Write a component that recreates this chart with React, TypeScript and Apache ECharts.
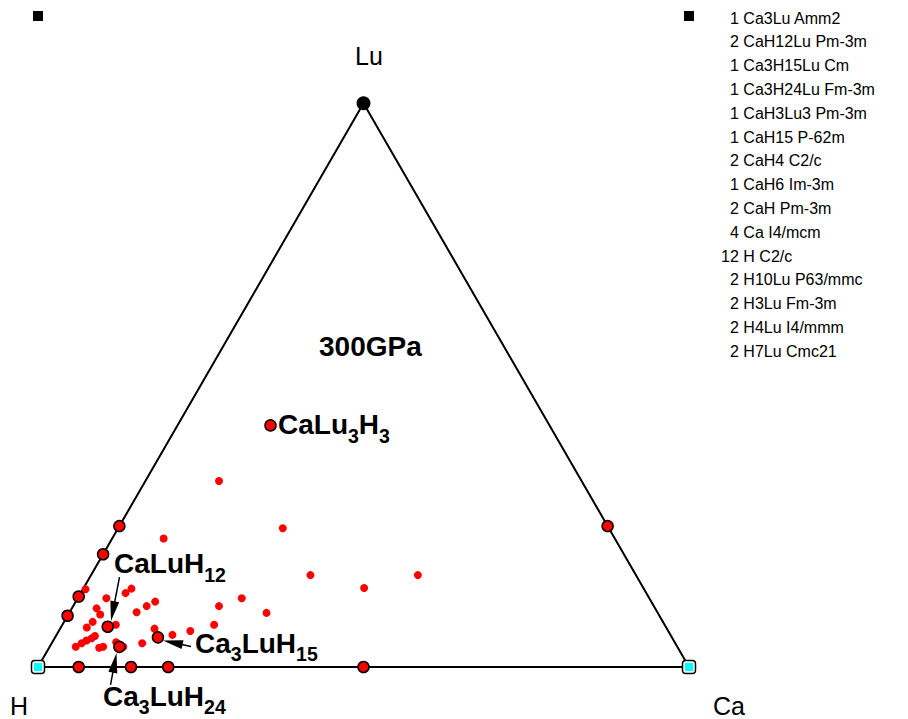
import React, { useEffect, useRef } from "react";
import * as echarts from "echarts";

const S3 = Math.sqrt(3) / 2;
const FONT = "'Liberation Sans', Arial, Helvetica, sans-serif";

// Stable phases: atom counts (Ca, Lu, H)
const stableNames = ["Ca3Lu", "CaH12Lu", "Ca3H15Lu", "Ca3H24Lu", "CaH3Lu3", "CaH15", "CaH4", "CaH6", "CaH", "H10Lu", "H3Lu", "H4Lu", "H7Lu"];
const stableCa = [3, 1, 3, 3, 1, 1, 1, 1, 1, 0, 0, 0, 0];
const stableLu = [1, 1, 1, 1, 3, 0, 0, 0, 0, 1, 1, 1, 1];
const stableH = [0, 12, 15, 24, 3, 15, 4, 6, 1, 10, 3, 4, 7];

// Elemental end members (Ca, Lu, H counts)
const elemNames = ["H", "Ca", "Lu"];
const elemCa = [0, 1, 0];
const elemLu = [0, 0, 1];
const elemH = [1, 0, 0];

// Metastable (above hull) compositions: fractions of Ca and Lu (H is the rest)
const unstableCa = [0.113, 0.253, 0.079, 0.337, 0.502, 0.431, 0.252, 0.224, 0.303, 0.233, 0.202, 0.178, 0.145, 0.139, 0.122, 0.113, 0.103, 0.074, 0.069, 0.044, 0.004, 0.038, 0.049, 0.044, 0.040, 0.082, 0.098, 0.113, 0.040, 0.046, 0.051, 0.057, 0.060, 0.077, 0.082];
const unstableLu = [0.330, 0.246, 0.228, 0.163, 0.163, 0.140, 0.122, 0.108, 0.096, 0.075, 0.064, 0.057, 0.068, 0.042, 0.116, 0.108, 0.097, 0.139, 0.131, 0.122, 0.138, 0.104, 0.093, 0.080, 0.070, 0.075, 0.044, 0.036, 0.036, 0.042, 0.047, 0.051, 0.055, 0.034, 0.036];

// Legend listing
const legendLines = [
  "1 Ca3Lu Amm2",
  "2 CaH12Lu Pm-3m",
  "1 Ca3H15Lu Cm",
  "1 Ca3H24Lu Fm-3m",
  "1 CaH3Lu3 Pm-3m",
  "1 CaH15 P-62m",
  "2 CaH4 C2/c",
  "1 CaH6 Im-3m",
  "2 CaH Pm-3m",
  "4 Ca I4/mcm",
  "12 H C2/c",
  "2 H10Lu P63/mmc",
  "2 H3Lu Fm-3m",
  "2 H4Lu I4/mmm",
  "2 H7Lu Cmc21",
];

// Annotated compounds (rich text) and arrows (plot units: from x,y -> to x,y)
const annotations = [
  { text: "{m|CaLu}{s|3}{m|H}{s|3}", x: 278, y: 410.8 },
  { text: "{m|CaLuH}{s|12}", x: 114, y: 549.6 },
  { text: "{m|Ca}{s|3}{m|LuH}{s|15}", x: 195, y: 629 },
  { text: "{m|Ca}{s|3}{m|LuH}{s|24}", x: 103, y: 682.3 },
];
const arrowFromX = [0.1252, 0.2350, 0.1114];
const arrowFromY = [0.1382, 0.0315, -0.0276];
const arrowToX = [0.1121, 0.1920, 0.1206];
const arrowToY = [0.0707, 0.0407, 0.0215];

const pressureLabel = "300GPa";

function toXY(ca: number, lu: number, h: number): [number, number] {
  const t = ca + lu + h;
  const fc = ca / t;
  const fl = lu / t;
  return [fc + fl / 2, fl * S3];
}

export default function App() {
  const ref = useRef<HTMLDivElement>(null);

  useEffect(() => {
    document.body.style.margin = "0";
    if (!ref.current) return;
    const chart = echarts.init(ref.current, null, { renderer: "svg" });

    const stableData = stableNames.map((n, i) => ({
      name: n,
      value: toXY(stableCa[i], stableLu[i], stableH[i]),
    }));
    const elemData = elemNames.map((n, i) => ({
      name: n,
      value: toXY(elemCa[i], elemLu[i], elemH[i]),
    }));
    const unstableData = unstableCa.map((c, i) => toXY(c, unstableLu[i], 1 - c - unstableLu[i]));
    const edgeData = [elemData[0].value, elemData[1].value, elemData[2].value, elemData[0].value];
    const arrowData = arrowFromX.map((x, i) => [x, arrowFromY[i], arrowToX[i], arrowToY[i]]);

    const rich = {
      m: { fontSize: 28, fontWeight: "bold", fontFamily: FONT, fill: "#000", verticalAlign: "top" },
      s: { fontSize: 19.5, fontWeight: "bold", fontFamily: FONT, fill: "#000", verticalAlign: "bottom", lineHeight: 35 },
    };

    const graphic: any[] = [];
    annotations.forEach((a) => {
      graphic.push({
        type: "text",
        x: a.x,
        y: a.y,
        silent: true,
        style: { text: a.text, rich, align: "left", verticalAlign: "top", textAlign: "left", textVerticalAlign: "top" },
      });
    });
    graphic.push({
      type: "text",
      x: 319,
      y: 332.3,
      style: {
        text: pressureLabel,
        font: `bold 28px ${FONT}`,
        fill: "#000",
        align: "left",
        verticalAlign: "top",
        textAlign: "left",
        textVerticalAlign: "top",
      },
    });
    const vertexLabelPos: Record<string, [number, number]> = { H: [19, 706], Ca: [729, 706], Lu: [369, 56] };
    elemNames.forEach((n) => {
      const p = vertexLabelPos[n];
      graphic.push({
        type: "text",
        x: p[0],
        y: p[1],
        style: {
          text: n,
          font: `25px ${FONT}`,
          fill: "#000",
          align: "center",
          verticalAlign: "middle",
          textAlign: "center",
          textVerticalAlign: "middle",
        },
      });
    });
    legendLines.forEach((line, i) => {
      const numLen = line.split(" ")[0].length;
      graphic.push({
        type: "text",
        x: 730 - (numLen - 1) * 8.9,
        y: 18 + i * 23.8,
        style: {
          text: line,
          font: `16px ${FONT}`,
          fill: "#000",
          align: "left",
          verticalAlign: "middle",
          textAlign: "left",
          textVerticalAlign: "middle",
        },
      });
    });

    chart.setOption({
      animation: false,
      backgroundColor: "#fff",
      grid: { left: 38, right: 219, top: 16, bottom: 52 },
      xAxis: { type: "value", min: 0, max: 1, show: false },
      yAxis: { type: "value", min: 0, max: 1, show: false },
      series: [
        {
          type: "line",
          data: edgeData,
          showSymbol: false,
          symbol: "none",
          clip: false,
          lineStyle: { color: "#000", width: 2 },
          z: 1,
          silent: true,
        },
        {
          type: "custom",
          coordinateSystem: "cartesian2d",
          clip: false,
          z: 2,
          encode: { x: [0, 2], y: [1, 3] },
          data: arrowData,
          renderItem: (params: any, api: any) => {
            const p1 = api.coord([api.value(0), api.value(1)]);
            const p2 = api.coord([api.value(2), api.value(3)]);
            const dx = p2[0] - p1[0];
            const dy = p2[1] - p1[1];
            const len = Math.hypot(dx, dy) || 1;
            const ux = dx / len;
            const uy = dy / len;
            const hl = 20;
            const hw = 4.5;
            const bx = p2[0] - ux * hl;
            const by = p2[1] - uy * hl;
            return {
              type: "group",
              children: [
                {
                  type: "line",
                  shape: { x1: p1[0], y1: p1[1], x2: bx + ux * 2, y2: by + uy * 2 },
                  style: { stroke: "#000", lineWidth: 1.5 },
                },
                {
                  type: "polygon",
                  shape: {
                    points: [
                      [p2[0], p2[1]],
                      [bx - uy * hw, by + ux * hw],
                      [bx + uy * hw, by - ux * hw],
                    ],
                  },
                  style: { fill: "#000" },
                },
              ],
            };
          },
        },
        {
          type: "scatter",
          data: unstableData,
          symbolSize: 8,
          clip: false,
          itemStyle: { color: "#ff0000", opacity: 1 },
          z: 3,
        },
        {
          type: "scatter",
          data: stableData,
          symbolSize: 11,
          clip: false,
          itemStyle: { color: "#ff0000", borderColor: "#000", borderWidth: 1.5, opacity: 1 },
          z: 4,
        },
        {
          type: "scatter",
          data: elemData.filter((d) => d.name !== "Lu"),
          symbol: "roundRect",
          symbolSize: 13,
          clip: false,
          itemStyle: { color: "#fff", borderColor: "#000", borderWidth: 1.5, opacity: 1 },
          z: 5,
        },
        {
          type: "scatter",
          data: elemData.filter((d) => d.name !== "Lu"),
          symbol: "rect",
          symbolSize: 8,
          clip: false,
          itemStyle: { color: "#00ffff", opacity: 1 },
          z: 6,
        },
        {
          type: "scatter",
          data: elemData.filter((d) => d.name === "Lu"),
          symbolSize: 14,
          clip: false,
          itemStyle: { color: "#000", opacity: 1 },
          z: 6,
        },
        {
          type: "scatter",
          data: [
            [0, 1],
            [1, 1],
          ],
          symbol: "rect",
          symbolSize: 10,
          clip: false,
          itemStyle: { color: "#000", opacity: 1 },
          z: 6,
        },
      ],
      graphic,
    });

    return () => {
      chart.dispose();
    };
  }, []);

  return <div ref={ref} style={{ width: 908, height: 719 }} />;
}
